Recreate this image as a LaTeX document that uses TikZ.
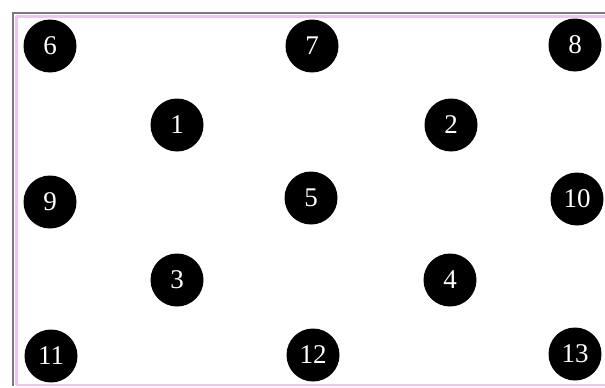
\documentclass[tikz,border=0pt]{standalone}
\usepackage{fontspec}
\setmainfont{Liberation Serif}
\definecolor{framegray}{HTML}{7A7A7A}
\definecolor{framepink}{HTML}{F0C4F0}
\newcommand\dotfont{\fontsize{27pt}{27pt}\selectfont}
\begin{document}
\begin{tikzpicture}[x=1pt,y=-1pt,
  dot/.style={circle,fill=black,text=white,minimum size=53pt,inner sep=0pt,
    font=\dotfont}]
\useasboundingbox (0,0) rectangle (605,388);
\fill[white] (0,0) rectangle (605,388);
% frame
\draw[framepink,line width=3pt] (16,16.5) -- (605,16.5);
\draw[framepink,line width=3pt] (16.5,16) -- (16.5,385);
\draw[framepink,line width=2.5pt] (16,385) -- (605,385);
\draw[framegray,line width=2.5pt] (12,13) -- (605,13);
\draw[framegray,line width=2.5pt] (13,12) -- (13,386);
% circles
\node[dot] (n6) at (50,46) {6};
\node[dot] (n7) at (312,46) {7};
\node[dot] (n8) at (575,45) {8};
\node[dot] (n1) at (177,125) {1};
\node[dot] (n2) at (451,125) {2};
\node[dot] (n9) at (50,202) {9};
\node[dot] (n5) at (311,198) {5};
\node[dot] (n10) at (577,199) {10};
\node[dot] (n3) at (177,280) {3};
\node[dot] (n4) at (450,280) {4};
\node[dot] (n11) at (51,356) {11};
\node[dot] (n12) at (313,355) {12};
\node[dot] (n13) at (575,354) {13};
\end{tikzpicture}
\end{document}
